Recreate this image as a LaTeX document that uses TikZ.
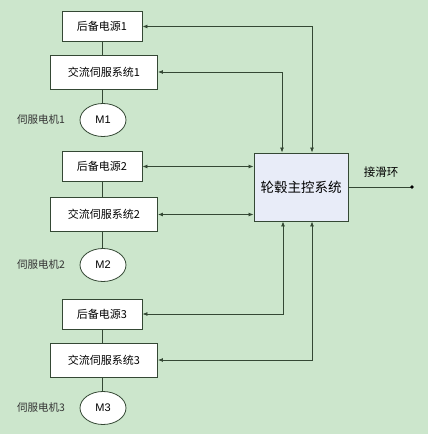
\documentclass[tikz,border=0pt]{standalone}
\usepackage{fontspec}
\setmainfont{Liberation Sans}
\newfontfamily\cjk{Noto Sans CJK SC}
\usetikzlibrary{arrows.meta,shapes.geometric}
\definecolor{bggreen}{RGB}{204,230,204}
\definecolor{linegreen}{RGB}{52,72,52}
\definecolor{mainfill}{RGB}{232,236,248}
\tikzset{
    unitbox/.style={draw=linegreen,line width=0.9pt,fill=white,inner sep=0pt,font=\cjk\fontsize{11}{13}\selectfont},
    backupbox/.style={unitbox,minimum width=80pt,minimum height=30pt},
    servobox/.style={unitbox,minimum width=107pt,minimum height=34pt},
    motor/.style={draw=linegreen,line width=0.8pt,fill=white,ellipse,minimum width=46pt,minimum height=33pt,inner sep=0pt,font=\fontsize{11}{13}\selectfont},
    motorlabel/.style={font=\cjk\fontsize{10.5}{12}\selectfont,text=black!80},
}
\begin{document}
\begin{tikzpicture}[x=1pt,y=-1pt,>={Latex[length=5pt,width=4pt]},line width=0.8pt]
    \fill[bggreen] (0,0) rectangle (428,434);
    \useasboundingbox (0,0) rectangle (428,434);
    %draw the three drive units
    \foreach \i/\yb/\ys/\ym in {1/26.5/72/120, 2/166.5/214.5/265, 3/314/360/408}
        {%
            \node[backupbox] (b\i) at (102,\yb) {后备电源\i};
            \node[servobox] (s\i) at (104,\ys) {交流伺服系统\i};
            \node[motor] (m\i) at (103,\ym) {M\i};
            \node[motorlabel] (l\i) at (41,\ym) {伺服电机\i};
            \draw[linegreen] (b\i.south) -- (b\i.south |- s\i.north);
            \draw[linegreen] (b\i.south |- s\i.south) -- (b\i.south |- m\i.north);
        }
    %draw main controller
    \node[draw=linegreen,line width=0.9pt,fill=mainfill,minimum width=94pt,minimum height=68pt,inner sep=0pt,font=\cjk\fontsize{13.5}{15}\selectfont] (main) at (301,187) {轮毂主控系统};
    %draw lines
    \draw[<->,linegreen] (b1.east) -| ([xshift=11pt]main.north);
    \draw[<->,linegreen] (s1.east) -| ([xshift=-19pt]main.north);
    \draw[<->,linegreen] (b2.east) -- (main.west |- b2.east);
    \draw[<->,linegreen] (s2.east) -- (main.west |- s2.east);
    \draw[<->,linegreen] (b3.east) -| ([xshift=-18pt]main.south);
    \draw[<->,linegreen] (s3.east) -| ([xshift=11pt]main.south);
    \coordinate (ring) at (412,187);
    \draw[linegreen,line width=1pt] (main.east) -- (ring);
    \fill[black] (ring) circle (1.8);
    \node[font=\cjk\fontsize{11.5}{13}\selectfont] (ringlabel) at (381,172) {接滑环};
\end{tikzpicture}
\end{document}
